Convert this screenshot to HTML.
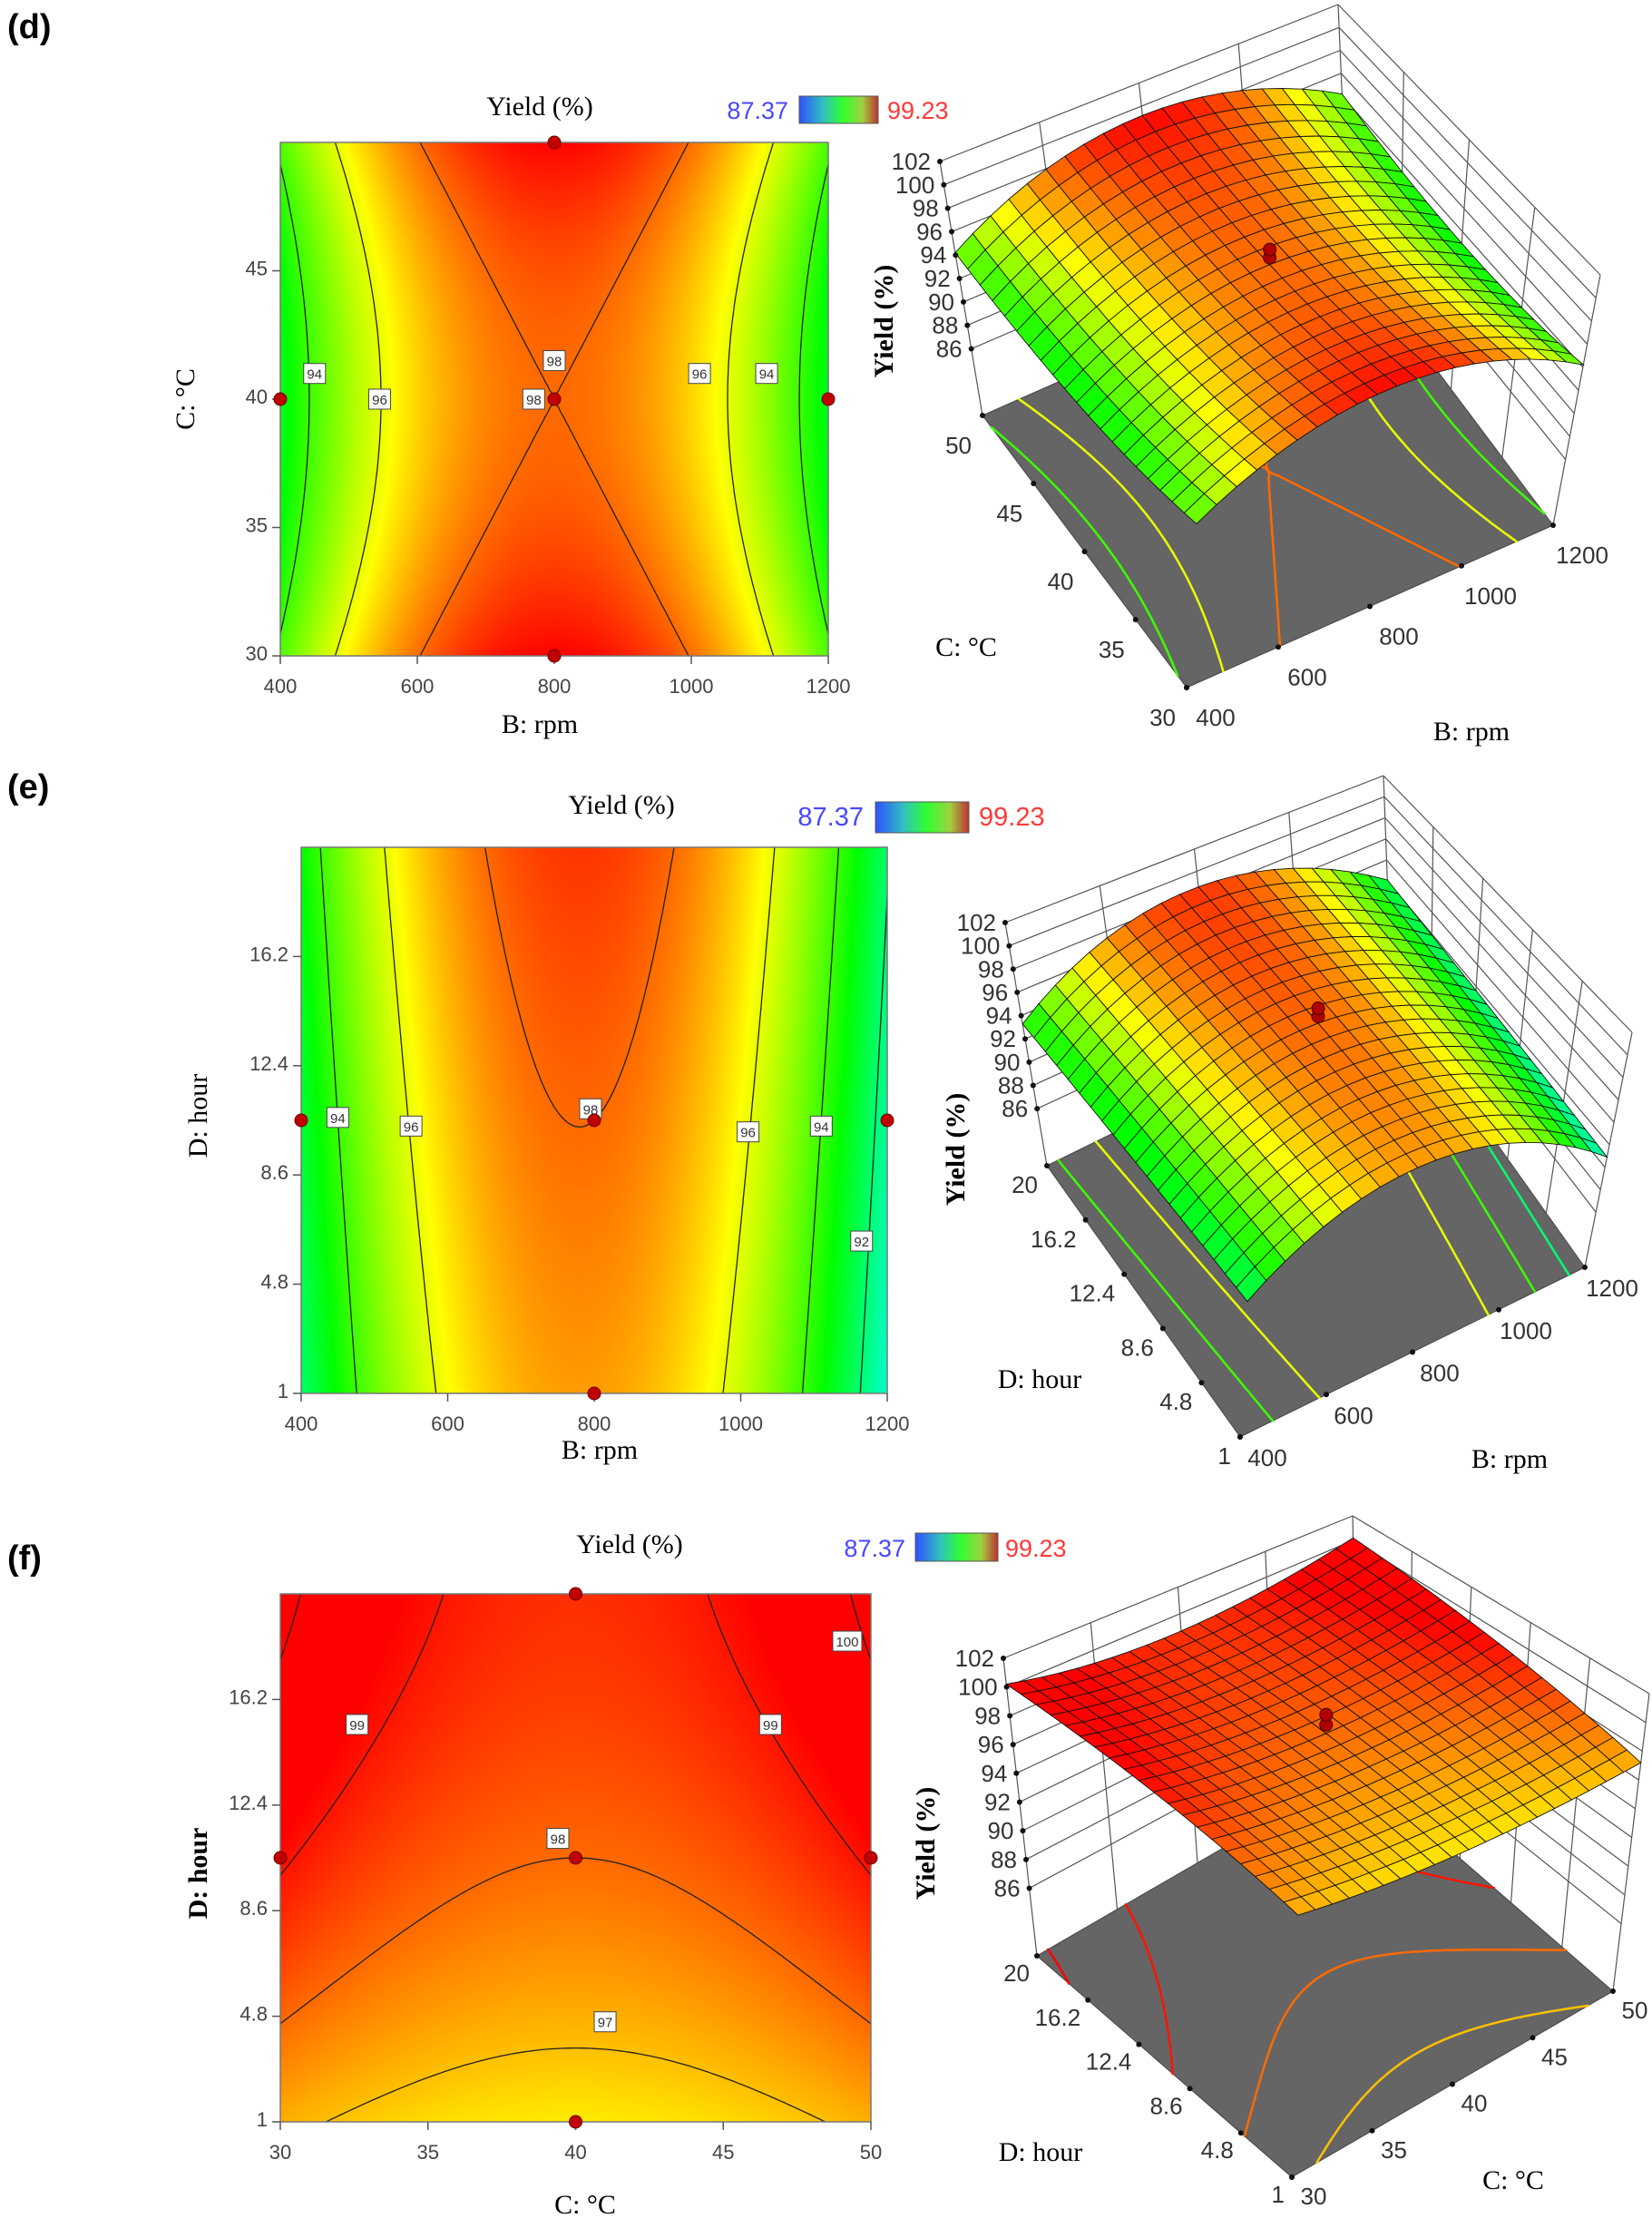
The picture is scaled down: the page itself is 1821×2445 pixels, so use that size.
<!DOCTYPE html>
<html><head><meta charset="utf-8">
<style>
html,body{margin:0;padding:0;background:#fff;}
#wrap{position:relative;width:1821px;height:2445px;overflow:hidden;background:#fff;}
canvas{position:absolute;}
svg{position:absolute;left:0;top:0;}
.lbl{font-family:"Liberation Sans",sans-serif;}
.ser{font-family:"Liberation Serif",serif;}
</style></head>
<body>
<div id="wrap">
<svg id="svg" width="1821" height="2445" viewBox="0 0 1821 2445">
<defs>
<linearGradient id="cbar" x1="0" x2="1" y1="0" y2="0">
<stop offset="0" stop-color="#3050ff"/><stop offset="0.3" stop-color="#30c0c0"/><stop offset="0.55" stop-color="#30ff30"/><stop offset="0.8" stop-color="#a0d040"/><stop offset="1" stop-color="#c03030"/>
</linearGradient>
</defs>
<text x="8" y="42" class="lbl" font-weight="bold" font-size="38">(d)</text>
<text x="595" y="127" class="ser" font-size="30" text-anchor="middle">Yield (%)</text>
<text x="869" y="131" class="lbl" font-size="27" fill="#4848ff" text-anchor="end">87.37</text>
<rect x="881" y="106" width="87" height="30" fill="url(#cbar)" stroke="#555"/>
<text x="978" y="131" class="lbl" font-size="27" fill="#ff3838">99.23</text>
<text x="595" y="808" class="ser" font-size="30" text-anchor="middle">B: rpm</text>
<text transform="translate(214,440) rotate(-90)" class="ser" font-size="30" text-anchor="middle">C: °C</text>
<text transform="translate(984,354) rotate(-90)" class="ser" font-size="30" font-weight="bold" text-anchor="middle">Yield (%)</text>
<text x="1065" y="723" class="ser" font-size="30" text-anchor="middle">C: °C</text>
<text x="1622" y="816" class="ser" font-size="30" text-anchor="middle">B: rpm</text>
<text x="8" y="880" class="lbl" font-weight="bold" font-size="38">(e)</text>
<text x="685" y="897" class="ser" font-size="30" text-anchor="middle">Yield (%)</text>
<text x="952" y="910" class="lbl" font-size="29" fill="#4848ff" text-anchor="end">87.37</text>
<rect x="965" y="884" width="103" height="34" fill="url(#cbar)" stroke="#555"/>
<text x="1079" y="910" class="lbl" font-size="29" fill="#ff3838">99.23</text>
<text x="661" y="1608" class="ser" font-size="30" text-anchor="middle">B: rpm</text>
<text transform="translate(228,1230) rotate(-90)" class="ser" font-size="30" text-anchor="middle">D: hour</text>
<text transform="translate(1063,1267) rotate(-90)" class="ser" font-size="30" font-weight="bold" text-anchor="middle">Yield (%)</text>
<text x="1146" y="1530" class="ser" font-size="30" text-anchor="middle">D: hour</text>
<text x="1664" y="1618" class="ser" font-size="30" text-anchor="middle">B: rpm</text>
<text x="8" y="1730" class="lbl" font-weight="bold" font-size="38">(f)</text>
<text x="694" y="1712" class="ser" font-size="30" text-anchor="middle">Yield (%)</text>
<text x="998" y="1716" class="lbl" font-size="27" fill="#4848ff" text-anchor="end">87.37</text>
<rect x="1009" y="1690" width="91" height="31" fill="url(#cbar)" stroke="#555"/>
<text x="1108" y="1716" class="lbl" font-size="27" fill="#ff3838">99.23</text>
<text x="645" y="2440" class="ser" font-size="30" text-anchor="middle">C: °C</text>
<text transform="translate(228,2065) rotate(-90)" class="ser" font-size="30" font-weight="bold" text-anchor="middle">D: hour</text>
<text transform="translate(1030,2032) rotate(-90)" class="ser" font-size="30" font-weight="bold" text-anchor="middle">Yield (%)</text>
<text x="1147" y="2382" class="ser" font-size="30" text-anchor="middle">D: hour</text>
<text x="1668" y="2413" class="ser" font-size="30" text-anchor="middle">C: °C</text>
</svg>
</div>
<script>
// model coefficients: [b0, bx, by, bxx, byy, bxy, bxxy] (coded -1..1 factors)
const dCoef = [98.0, 0, 0, -5.0, 1.2, 0, 0];
const eCoef = [98.0, -0.59, 0.6, -5.9, 0, 0, 0];
const fCoef = [98.0, 0, 1.1, 1.1, -0.4, 0, 0.4];
const dXRange = [400, 1200];
const dYRange = [30, 50];
const eXRange = [400, 1200];
const eYRange = [1, 20];
const fXRange = [30, 50];
const fYRange = [1, 20];
const dXTicks = [400, 600, 800, 1000, 1200];
const dYTicks = [30, 35, 40, 45];
const eXTicks = [400, 600, 800, 1000, 1200];
const eYTicks = [1, 4.8, 8.6, 12.4, 16.2];
const fXTicks = [30, 35, 40, 45, 50];
const fYTicks = [1, 4.8, 8.6, 12.4, 16.2];
const d3YTicks = [30, 35, 40, 45, 50];
const e3YTicks = [1, 4.8, 8.6, 12.4, 16.2, 20];
const f3YTicks = [1, 4.8, 8.6, 12.4, 16.2, 20];
const zTicks = [86, 88, 90, 92, 94, 96, 98, 100, 102];
const dLevels = [94, 96, 98];
const eLevels = [92, 94, 96, 98];
const fLevels = [97, 98, 99, 100];
const dFloorLevels = [92, 94, 96, 98];
const eFloorLevels = [90, 92, 94, 96, 98];
const fFloorLevels = [97, 98, 99, 100];
const dLabelX = [450, 545, 770, 800, 1012, 1110];
const dLabelY = [41, 40, 40, 41.5, 41, 41];
const dLabelT = ["94", "96", "98", "98", "96", "94"];
const eLabelX = [450, 550, 795, 1010, 1110, 1165];
const eLabelY = [10.6, 10.3, 10.9, 10.1, 10.3, 6.3];
const eLabelT = ["94", "96", "98", "96", "94", "92"];
const fLabelX = [49.2, 32.6, 46.6, 39.4, 41.0];
const fLabelY = [18.3, 15.3, 15.3, 11.2, 4.6];
const fLabelT = ["100", "99", "99", "98", "97"];
const dPointX = [800, 400, 800, 1200, 800];
const dPointY = [50, 40, 40, 40, 30];
const ePointX = [400, 800, 1200, 800];
const ePointY = [10.5, 10.5, 10.5, 1];
const fPointX = [40, 30, 40, 50, 40];
const fPointY = [20, 10.5, 10.5, 10.5, 1];

const SVGNS = "http://www.w3.org/2000/svg";
const svg = document.getElementById('svg');
const wrap = document.getElementById('wrap');
function mk(tag, attrs, parent) {
  const e = document.createElementNS(SVGNS, tag);
  for (const k in attrs) e.setAttribute(k, attrs[k]);
  (parent || svg).appendChild(e);
  return e;
}
function model(c, x, y) { return c[0] + c[1]*x + c[2]*y + c[3]*x*x + c[4]*y*y + c[5]*x*y + c[6]*x*x*y; }
function frac(v, r) { return (v - r[0]) / (r[1] - r[0]); }
const cstops = [[0, [0, 0, 255]], [0.25, [0, 255, 255]], [0.5, [0, 255, 0]], [0.75, [255, 255, 0]], [1, [255, 0, 0]]];
function cmapArr(v) {
  let p = (v - 87.37) / (99.23 - 87.37);
  p = Math.max(0, Math.min(1, p));
  for (let i = 1; i < cstops.length; i++) {
    if (p <= cstops[i][0]) {
      const a = cstops[i-1], b = cstops[i];
      const t = (p - a[0]) / (b[0] - a[0]);
      return [0, 1, 2].map(k => Math.round(a[1][k] + t * (b[1][k] - a[1][k])));
    }
  }
  return [255, 0, 0];
}
function cmap(v) { const c = cmapArr(v); return 'rgb(' + c.join(',') + ')'; }
function fmt(v) { return String(v); }
function contourSegs(f, level, N) {
  const vals = [];
  for (let j = 0; j <= N; j++) { vals.push([]); for (let i = 0; i <= N; i++) vals[j].push(f(i / N, j / N)); }
  const segs = [];
  for (let j = 0; j < N; j++) for (let i = 0; i < N; i++) {
    const c = [[i, j, vals[j][i]], [i+1, j, vals[j][i+1]], [i+1, j+1, vals[j+1][i+1]], [i, j+1, vals[j+1][i]]];
    const pts = [];
    for (let k = 0; k < 4; k++) {
      const a = c[k], b = c[(k+1) % 4];
      if ((a[2] >= level) !== (b[2] >= level)) {
        const t = (level - a[2]) / (b[2] - a[2]);
        pts.push([(a[0] + t*(b[0]-a[0])) / N, (a[1] + t*(b[1]-a[1])) / N]);
      }
    }
    if (pts.length >= 2) segs.push([pts[0], pts[1]]);
    if (pts.length === 4) segs.push([pts[2], pts[3]]);
  }
  return segs;
}

function draw2D(id, R, coef, xr, yr, xticks, yticks, levels, lx, ly, lt, px, py) {
  const w = R[2] - R[0], h = R[3] - R[1];
  const cv = document.createElement('canvas');
  
  
  cv.width = w; cv.height = h;
  cv.style.left = R[0] + 'px'; cv.style.top = R[1] + 'px';
  wrap.insertBefore(cv, svg);
  const ctx = cv.getContext('2d');
  const img = ctx.createImageData(w, h);
  for (let y = 0; y < h; y++) for (let x = 0; x < w; x++) {
    const col = cmapArr(model(coef, -1 + 2 * x / (w - 1), 1 - 2 * y / (h - 1)));
    const o = (y * w + x) * 4;
    img.data[o] = col[0]; img.data[o+1] = col[1]; img.data[o+2] = col[2]; img.data[o+3] = 255;
  }
  ctx.putImageData(img, 0, 0);
  const g = mk('g', {});
  
  
  const sx = u => R[0] + u * w, sy = v => R[3] - v * h;
  const f = (u, v) => model(coef, 2*u - 1, 2*v - 1);
  levels.forEach(L => {
    const segs = contourSegs(f, L, 120);
    let d = '';
    segs.forEach(s => { d += 'M' + sx(s[0][0]).toFixed(1) + ' ' + sy(s[0][1]).toFixed(1) + 'L' + sx(s[1][0]).toFixed(1) + ' ' + sy(s[1][1]).toFixed(1); });
    const p = mk('path', {d: d, stroke: '#222', 'stroke-width': 1.3, fill: 'none', 'stroke-linecap': 'round'}, g);
    
    
  });
  const border = mk('rect', {x: R[0], y: R[1], width: w, height: h, fill: 'none', stroke: '#777', 'stroke-width': 1.5}, g);
  
  
  xticks.forEach(t => {
    const x = sx(frac(t, xr));
    const tk = mk('line', {x1: x, x2: x, y1: R[3], y2: R[3] + 9, stroke: '#555', 'stroke-width': 1.5}, g);
    
    
    const tl = mk('text', {x: x, y: R[3] + 41, 'text-anchor': 'middle', 'font-size': 22, fill: '#444', 'font-family': 'Liberation Sans, sans-serif'}, g);
    
    
    tl.textContent = fmt(t);
  });
  yticks.forEach(t => {
    const y = sy(frac(t, yr));
    const tk = mk('line', {x1: R[0] - 9, x2: R[0], y1: y, y2: y, stroke: '#555', 'stroke-width': 1.5}, g);
    
    
    const tl = mk('text', {x: R[0] - 14, y: y + 5, 'text-anchor': 'end', 'font-size': 22, fill: '#444', 'font-family': 'Liberation Sans, sans-serif'}, g);
    
    
    tl.textContent = fmt(t);
  });
  lx.forEach((v, i) => {
    const x = sx(frac(v, xr)), y = sy(frac(ly[i], yr));
    const bw = lt[i].length > 2 ? 32 : 24;
    const r = mk('rect', {x: x - bw/2, y: y - 11, width: bw, height: 22, fill: '#fff', stroke: '#444', 'stroke-width': 1}, g);
    
    
    const t = mk('text', {x: x, y: y + 6, 'text-anchor': 'middle', 'font-size': 15, fill: '#333', 'font-family': 'Liberation Sans, sans-serif'}, g);
    
    
    t.textContent = lt[i];
  });
  px.forEach((v, i) => {
    const c = mk('circle', {cx: sx(frac(v, xr)), cy: sy(frac(py[i], yr)), r: 7, fill: '#c00000', stroke: '#600', 'stroke-width': 1}, g);
    
    
  });
}

draw2D('d', [309, 157, 913, 723], dCoef, dXRange, dYRange, dXTicks, dYTicks, dLevels, dLabelX, dLabelY, dLabelT, dPointX, dPointY);
draw2D('e', [332, 934, 978, 1536], eCoef, eXRange, eYRange, eXTicks, eYTicks, eLevels, eLabelX, eLabelY, eLabelT, ePointX, ePointY);
draw2D('f', [309, 1757, 960, 2339], fCoef, fXRange, fYRange, fXTicks, fYTicks, fLevels, fLabelX, fLabelY, fLabelT, fPointX, fPointY);

function draw3D(id, geo, coef, xr, yr, xticks, yticks, floorLevels) {
  const F0 = geo.front, FL = geo.left, FR = geo.right;
  const TL = geo.tleft, TB = geo.tback, TR = geo.tright;
  const TF = [TL[0] + TR[0] - TB[0], TL[1] + TR[1] - TB[1]];
  const zf = geo.zf, zt = 102;
  function P(u, v, z) {
    const fx = F0[0] + u*(FR[0]-F0[0]) + v*(FL[0]-F0[0]);
    const fy = F0[1] + u*(FR[1]-F0[1]) + v*(FL[1]-F0[1]);
    const tx = TF[0] + u*(TR[0]-TF[0]) + v*(TL[0]-TF[0]);
    const ty = TF[1] + u*(TR[1]-TF[1]) + v*(TL[1]-TF[1]);
    const t = (z - zf) / (zt - zf);
    return [fx + t*(tx-fx), fy + t*(ty-fy)];
  }
  const ps = a => a.map(p => p[0].toFixed(1) + ',' + p[1].toFixed(1)).join(' ');
  const g = mk('g', {});
  
  
  let d = '';
  const line = (a, b) => { d += 'M' + a[0].toFixed(1) + ' ' + a[1].toFixed(1) + 'L' + b[0].toFixed(1) + ' ' + b[1].toFixed(1); };
  zTicks.forEach(z => { line(P(0,1,z), P(1,1,z)); line(P(1,1,z), P(1,0,z)); });
  xticks.forEach(t => { const u = frac(t, xr); line(P(u,1,zf), P(u,1,zt)); });
  yticks.forEach(t => { const v = frac(t, yr); line(P(1,v,zf), P(1,v,zt)); });
  line(P(0,1,zf), P(0,1,zt)); line(P(1,0,zf), P(1,0,zt)); line(P(1,1,zf), P(1,1,zt));
  line(P(0,1,zt), P(1,1,zt)); line(P(1,1,zt), P(1,0,zt));
  const wall = mk('path', {d: d, stroke: '#555', 'stroke-width': 1.2, fill: 'none'}, g);
  
  
  const fl = mk('polygon', {points: ps([P(0,0,zf), P(1,0,zf), P(1,1,zf), P(0,1,zf)]), fill: '#656565', stroke: '#444'}, g);
  
  
  const f = (u, v) => model(coef, 2*u - 1, 2*v - 1);
  floorLevels.forEach(L => {
    let dd = '';
    contourSegs(f, L, 80).forEach(s => {
      const a = P(s[0][0], s[0][1], zf), b = P(s[1][0], s[1][1], zf);
      dd += 'M' + a[0].toFixed(1) + ' ' + a[1].toFixed(1) + 'L' + b[0].toFixed(1) + ' ' + b[1].toFixed(1);
    });
    const p = mk('path', {d: dd, stroke: cmap(L), 'stroke-width': 2.5, fill: 'none', 'stroke-linecap': 'round'}, g);
    
    
  });
  const N = 20, cells = [];
  for (let j = 0; j < N; j++) for (let i = 0; i < N; i++) cells.push([i, j]);
  cells.sort((a, b) => (b[0] + b[1]) - (a[0] + a[1]));
  const sg = mk('g', {stroke: '#111', 'stroke-width': 0.9}, g);
  
  
  cells.forEach(c => {
    const u0 = c[0] / N, u1 = (c[0] + 1) / N, v0 = c[1] / N, v1 = (c[1] + 1) / N;
    const q = [P(u0, v0, f(u0, v0)), P(u1, v0, f(u1, v0)), P(u1, v1, f(u1, v1)), P(u0, v1, f(u0, v1))];
    const poly = mk('polygon', {points: ps(q), fill: cmap(f((u0+u1)/2, (v0+v1)/2))}, sg);
    
    
  });
  [0.6, 1.3].forEach(dz => {
    const p = P(0.5, 0.5, f(0.5, 0.5) + dz);
    const c = mk('circle', {cx: p[0], cy: p[1], r: 7, fill: '#b00000', stroke: '#400', 'stroke-width': 1}, g);
    
    
  });
  zTicks.forEach(z => {
    const p = P(0, 1, z);
    const dot = mk('circle', {cx: p[0], cy: p[1], r: 3, fill: '#111'}, g);
    
    
    const t = mk('text', {x: p[0] - 10, y: p[1] + 9, 'text-anchor': 'end', 'font-size': 26, fill: '#333', 'font-family': 'Liberation Sans, sans-serif'}, g);
    
    
    t.textContent = z;
  });
  xticks.forEach(tv => {
    const p = P(frac(tv, xr), 0, zf);
    const dot = mk('circle', {cx: p[0], cy: p[1], r: 3, fill: '#111'}, g);
    
    
    const t = mk('text', {x: p[0] + geo.xo[0], y: p[1] + geo.xo[1], 'text-anchor': 'middle', 'font-size': 26, fill: '#333', 'font-family': 'Liberation Sans, sans-serif'}, g);
    
    
    t.textContent = tv;
  });
  yticks.forEach(tv => {
    const p = P(0, frac(tv, yr), zf);
    const dot = mk('circle', {cx: p[0], cy: p[1], r: 3, fill: '#111'}, g);
    
    
    const t = mk('text', {x: p[0] + geo.yo[0], y: p[1] + geo.yo[1], 'text-anchor': 'end', 'font-size': 26, fill: '#333', 'font-family': 'Liberation Sans, sans-serif'}, g);
    
    
    t.textContent = tv;
  });
}

draw3D('d3', {front: [1308, 758], left: [1083, 458], right: [1712, 579], tleft: [1036, 178], tback: [1475, 5], tright: [1764, 303], zf: 80.3, xo: [32, 42], yo: [-12, 42]},
  dCoef, dXRange, dYRange, dXTicks, d3YTicks, dFloorLevels);
draw3D('e3', {front: [1367, 1584], left: [1154, 1285], right: [1747, 1397], tleft: [1108, 1017], tback: [1525, 855], tright: [1799, 1138], zf: 81.1, xo: [30, 32], yo: [-10, 30]},
  eCoef, eXRange, eYRange, eXTicks, e3YTicks, eFloorLevels);
draw3D('f3', {front: [1424, 2400], left: [1143, 2156], right: [1778, 2195], tleft: [1106, 1828], tback: [1491, 1671], tright: [1818, 1867], zf: 81.3, xo: [24, 30], yo: [-8, 28]},
  fCoef, fXRange, fYRange, fXTicks, f3YTicks, fFloorLevels);
</script>
</body></html>
